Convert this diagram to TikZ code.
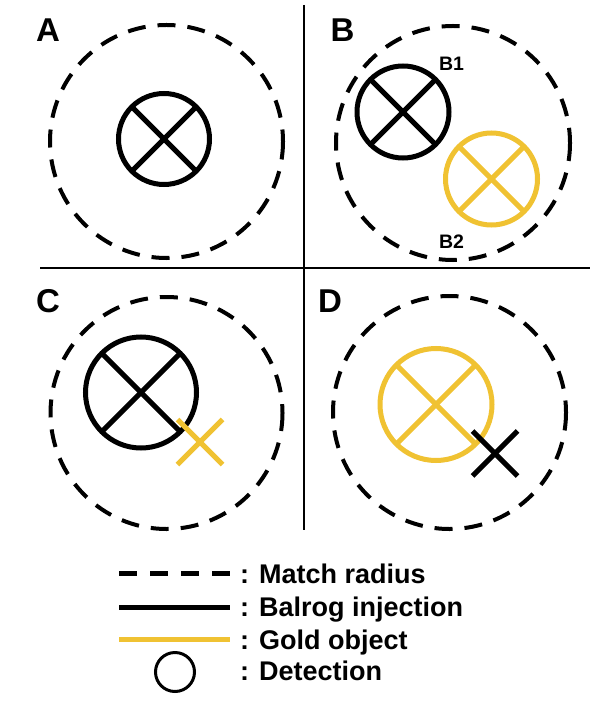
\documentclass[tikz,border=0pt]{standalone}
\usepackage{fontspec}
\setmainfont{Liberation Sans}
\definecolor{gold}{HTML}{F0C232}
\newcommand\detsym[4]{%
  \draw[#4] (#1,#2) circle[radius=#3];
  \draw[#4] (#1,#2) ++(-0.7071*#3,-0.7071*#3) -- ++(1.4142*#3,1.4142*#3);
  \draw[#4] (#1,#2) ++(-0.7071*#3,0.7071*#3) -- ++(1.4142*#3,-1.4142*#3);
}
\newcommand\xsym[4]{%
  \draw[#4] (#1,#2) ++(-#3,-#3) -- ++(2*#3,2*#3);
  \draw[#4] (#1,#2) ++(-#3,#3) -- ++(2*#3,-2*#3);
}
\begin{document}
\begin{tikzpicture}[x=1pt,y=-1pt,
  matchr/.style={line width=4pt, dash pattern=on 18pt off 12pt},
  balrog/.style={line width=5pt, draw=black},
  goldobj/.style={line width=5pt, draw=gold},
  divider/.style={line width=2pt},
  panel/.style={font=\fontsize{33}{33}\selectfont\bfseries, inner sep=0pt, anchor=base},
  sublab/.style={font=\fontsize{19.5}{20}\selectfont\bfseries, inner sep=0pt, anchor=base},
  legtext/.style={font=\fontsize{27}{27}\selectfont\bfseries, inner sep=0pt, anchor=base west},
]
\useasboundingbox (0,0) rectangle (608,703);
\fill[white] (0,0) rectangle (608,703);

% dividers
\draw[divider] (304,5) -- (304,530);
\draw[divider] (40,268) -- (590,268);

% panel labels
\node[panel] (labA) at (48,42) {A};
\node[panel] (labB) at (342.5,42) {B};
\node[panel] (labC) at (48,312) {C};
\node[panel] (labD) at (330,312) {D};

% Panel A
\draw[matchr] (166.5,141.5) circle[radius=116.5];
\detsym{164}{139}{45.5}{balrog}

% Panel B
\draw[matchr] (453,143) circle[radius=117];
\detsym{403}{112}{46}{balrog}
\detsym{491.5}{179}{46}{goldobj}
\node[sublab] (labB1) at (451.5,71) {B1};
\node[sublab] (labB2) at (451.5,248) {B2};

% Panel C
\draw[matchr] (166.5,413) circle[radius=116];
\detsym{141}{392.5}{55.5}{balrog}
\xsym{200}{442}{22.5}{goldobj}

% Panel D
\draw[matchr] (449.5,412.5) circle[radius=116.5];
\detsym{436}{404.5}{56}{goldobj}
\xsym{495}{453.5}{22.5}{balrog}

% Legend
\coordinate (l1a) at (119,573); \coordinate (l1b) at (230,573);
\coordinate (l2a) at (119,607); \coordinate (l2b) at (230,607);
\coordinate (l3a) at (119,639.5); \coordinate (l3b) at (230,639.5);
\draw[line width=5pt, dash pattern=on 18pt off 13pt] (l1a) -- (l1b);
\draw[balrog] (l2a) -- (l2b);
\draw[goldobj] (l3a) -- (l3b);
\draw[line width=3pt] (175,672) circle[radius=19.5];
\node[legtext] (t1) at (240,583) {: Match radius};
\node[legtext] (t2) at (240,616) {: Balrog injection};
\node[legtext] (t3) at (240,649) {: Gold object};
\node[legtext] (t4) at (240,680) {: Detection};
\end{tikzpicture}
\end{document}
